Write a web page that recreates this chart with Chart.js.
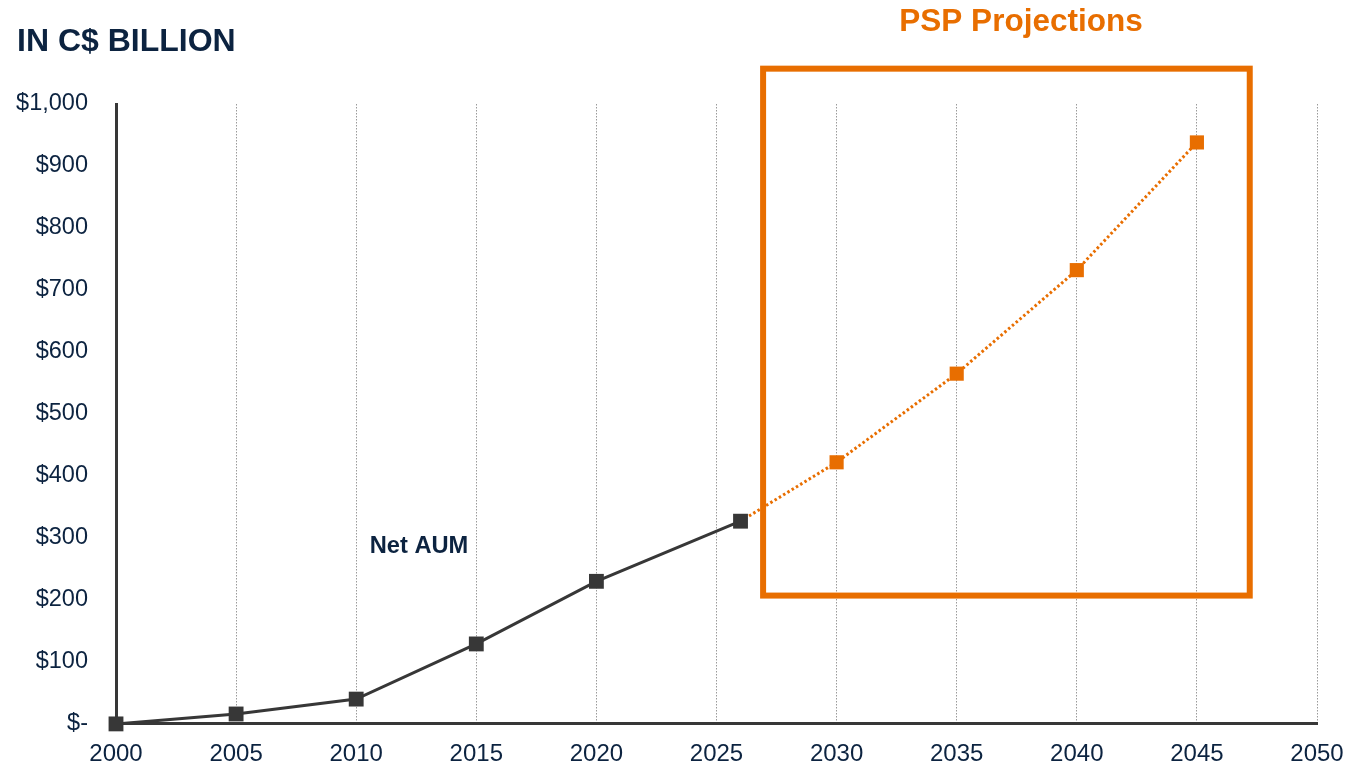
<!DOCTYPE html>
<html>
<head>
<meta charset="utf-8">
<script src="https://cdn.jsdelivr.net/npm/chart.js@4.4.1/dist/chart.umd.min.js"></script>
<style>
  html, body { margin: 0; padding: 0; background: #ffffff; }
  #wrap { position: relative; width: 1371px; height: 766px; }
</style>
</head>
<body>
<div id="wrap"><canvas id="c" width="1371" height="766"></canvas></div>
<script>
// ---- Data ----
const actualYears = [2000, 2005, 2010, 2015, 2020, 2026];
const actualValues = [0, 16, 40, 129, 230, 327];
const projectionYears = [2026, 2030, 2035, 2040, 2045];
const projectionValues = [327, 422, 565, 732, 938];
const xTicks = [2000, 2005, 2010, 2015, 2020, 2025, 2030, 2035, 2040, 2045, 2050];
const yTickValues = [0, 100, 200, 300, 400, 500, 600, 700, 800, 900, 1000];
const yTickLabels = ['$-', '$100', '$200', '$300', '$400', '$500', '$600', '$700', '$800', '$900', '$1,000'];
const titleText = 'IN C$ BILLION';
const projectionLabel = 'PSP Projections';
const seriesLabel = 'Net AUM';
// projection box extent in data units
const boxYears = [2026.94, 2047.2];
const boxValues = [207, 1057];

const NAVY = '#0c2340';
const DARK = '#373737';
const ORANGE = '#E86E00';
const FONT = '"Liberation Sans", Arial, sans-serif';

const toPts = (xs, ys) => xs.map((x, i) => ({ x: x, y: ys[i] }));

const overlay = {
  id: 'overlay',
  afterDatasetsDraw(chart) {
    const { ctx, scales: { x, y } } = chart;
    ctx.save();
    // projection box
    const x0 = x.getPixelForValue(boxYears[0]);
    const x1 = x.getPixelForValue(boxYears[1]);
    const y0 = y.getPixelForValue(boxValues[1]);
    const y1 = y.getPixelForValue(boxValues[0]);
    ctx.strokeStyle = ORANGE;
    ctx.lineWidth = 6;
    ctx.setLineDash([]);
    ctx.strokeRect(x0, y0, x1 - x0, y1 - y0);
    // texts
    ctx.fillStyle = NAVY;
    ctx.font = 'bold 32px ' + FONT;
    ctx.textAlign = 'left';
    ctx.textBaseline = 'middle';
    ctx.fillText(titleText, 17, 42);
    ctx.fillStyle = ORANGE;
    ctx.font = 'bold 31.5px ' + FONT;
    ctx.textAlign = 'center';
    ctx.fillText(projectionLabel, 1021, 22);
    ctx.fillStyle = NAVY;
    ctx.font = 'bold 23.7px ' + FONT;
    ctx.fillText(seriesLabel, 419, 546);
    ctx.restore();
  }
};

new Chart(document.getElementById('c'), {
  type: 'line',
  data: {
    datasets: [
      {
        label: 'Projection',
        data: toPts(projectionYears, projectionValues),
        borderColor: ORANGE,
        backgroundColor: ORANGE,
        borderWidth: 3,
        borderDash: [2.5, 2.5],
        pointStyle: 'rect',
        pointRadius: projectionYears.map((v, i) => i === 0 ? 0 : 10),
        pointBorderWidth: 0,
        tension: 0,
        clip: false,
        order: 2
      },
      {
        label: seriesLabel,
        data: toPts(actualYears, actualValues),
        borderColor: DARK,
        backgroundColor: DARK,
        borderWidth: 3,
        pointStyle: 'rect',
        pointRadius: 10.5,
        pointBorderWidth: 0,
        tension: 0,
        clip: false,
        order: 1
      }
    ]
  },
  options: {
    responsive: false,
    animation: false,
    layout: { padding: { top: 104, right: 54, left: 0, bottom: 0 } },
    plugins: { legend: { display: false }, tooltip: { enabled: false } },
    scales: {
      x: {
        type: 'linear',
        min: 2000,
        max: 2050,
        afterBuildTicks(scale) { scale.ticks = xTicks.map(v => ({ value: v })); },
        ticks: {
          color: NAVY,
          font: { family: FONT, size: 24 },
          padding: 16,
          maxRotation: 0,
          autoSkip: false,
          callback: (v) => String(v)
        },
        grid: { color: '#9a9a9a', lineWidth: 1, drawTicks: false },
        border: { display: true, color: DARK, width: 3, dash: [1.5, 1.5] },
        afterFit(scale) { scale.height = 39; }
      },
      y: {
        min: 0,
        max: 1000,
        afterBuildTicks(scale) { scale.ticks = yTickValues.map(v => ({ value: v })); },
        ticks: {
          color: NAVY,
          font: { family: FONT, size: 23.5 },
          padding: 28,
          callback: (v) => yTickLabels[yTickValues.indexOf(v)]
        },
        grid: { display: false, drawTicks: false },
        border: { display: true, color: DARK, width: 3 },
        afterFit(scale) { scale.width = 116; }
      }
    }
  },
  plugins: [overlay]
});
</script>
</body>
</html>
